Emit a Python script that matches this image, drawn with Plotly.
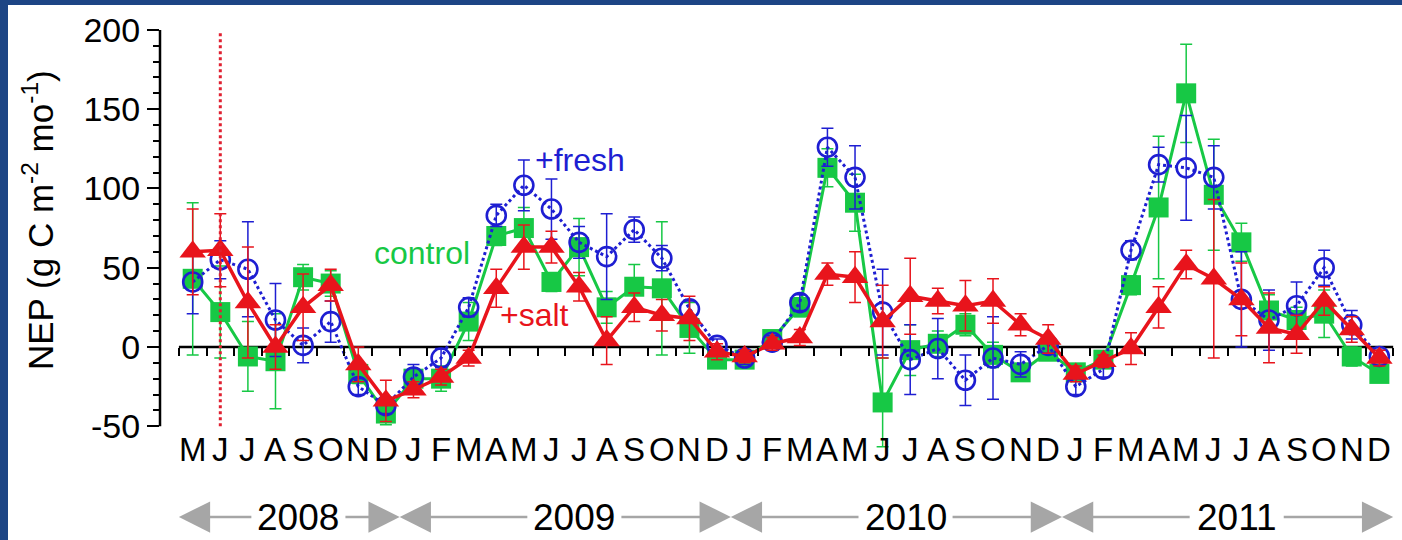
import plotly.graph_objects as go

# ---------------- data ----------------
months_per_year = [8, 12, 12, 12]
years = ["2008", "2009", "2010", "2011"]
month_letters = (["M", "J", "J", "A", "S", "O", "N", "D"]
                 + ["J", "F", "M", "A", "M", "J", "J", "A", "S", "O", "N", "D"] * 3)

control = [43, 22, -6, -9, 44, 40, -17, -42, -20, -20, 16, 70, 75, 41, 63, 25, 38, 37, 12, -8,
           -8, 5, 25, 113, 91, -35, -2, 2, 14, -5, -16, -3,
           -16, -8, 39, 88, 160, 96, 66, 23, 17, 21, -6, -17]
control_err = [48, 29, 22, 30, 8, 8, 6, 7, 5, 8, 12, 6, 13, 6, 18, 10, 14, 42, 16, 5,
               4, 4, 6, 12, 18, 28, 16, 8, 7, 8, 5, 5,
               4, 4, 6, 45, 31, 35, 12, 10, 8, 15, 6, 5]

salt = [60, 61, 28, 0, 25, 39, -11, -34, -27, -19, -7, 37, 63, 63, 38, 4, 25, 20, 18, -3,
        -6, 2, 6, 46, 44, 16, 32, 29, 26, 29, 14, 5,
        -17, -9, -1, 25, 52, 43, 30, 12, 8, 29, 11, -7]
salt_err = [27, 23, 35, 14, 21, 10, 11, 13, 5, 5, 5, 12, 14, 10, 9, 15, 9, 10, 14, 5,
            4, 4, 5, 7, 16, 23, 24, 8, 16, 14, 7, 9,
            5, 4, 10, 13, 9, 50, 23, 22, 12, 9, 8, 5]

fresh = [41, 55, 49, 17, 1, 16, -25, -37, -19, -7, 25, 83, 102, 87, 66, 57, 74, 56, 24, 1,
         -7, 3, 28, 126, 107, 22, -8, -1, -21, -7, -11, 1,
         -25, -14, 61, 115, 113, 107, 30, 17, 26, 50, 14, -6]
fresh_err = [20, 12, 30, 23, 11, 13, 5, 5, 8, 6, 6, 7, 16, 19, 10, 27, 8, 8, 5, 4,
             4, 4, 5, 12, 20, 27, 22, 19, 16, 26, 8, 5,
             5, 5, 6, 11, 33, 20, 30, 19, 15, 11, 9, 4]

y_major = [-50, 0, 50, 100, 150, 200]
y_minor = [v for v in range(-50, 201, 10) if v % 50 != 0]
treatment_month = 1  # June 2008

# ---------------- style ----------------
GREEN = "#17c845"
RED = "#e8141c"
BLUE = "#1e1ed2"
GRAY = "#a6a6a6"
FONT = "Liberation Sans, Arial, sans-serif"
BG_BLUE = "#1d4585"

x = list(range(len(control)))
n = len(x)

fig = go.Figure()

fig.add_trace(go.Scatter(
    x=x, y=control, mode="lines+markers",
    line=dict(color=GREEN, width=3),
    marker=dict(symbol="square", size=20, color=GREEN),
    error_y=dict(type="data", array=control_err, color=GREEN, thickness=1.5, width=6),
    cliponaxis=False, showlegend=False))

fig.add_trace(go.Scatter(
    x=x, y=fresh, mode="lines+markers",
    line=dict(color=BLUE, width=3, dash="dot"),
    marker=dict(symbol="circle-open", size=19, color=BLUE, line=dict(width=2.6, color=BLUE)),
    error_y=dict(type="data", array=fresh_err, color=BLUE, thickness=1.5, width=6),
    cliponaxis=False, showlegend=False))

fig.add_trace(go.Scatter(
    x=x, y=salt, mode="lines+markers",
    line=dict(color=RED, width=3.5),
    marker=dict(symbol="triangle-up", size=23, color=RED),
    error_y=dict(type="data", array=salt_err, color=RED, thickness=1.5, width=6),
    cliponaxis=False, showlegend=False))

# ---------------- layout geometry ----------------
W, H = 1402, 540
ML, MR, MT, MB = 160, 0, 22, 90
YR = [-65, 205]
XR = [-1.185, 43.82]
plot_h = H - MT - MB
plot_w = W - ML - MR

def px_to_paper_x(px):
    return (px - ML) / plot_w

def px_to_paper_y(py):
    return (H - MB - py) / plot_h

boundaries = [i - 0.5 for i in range(n + 1)]

shapes = []
# white slide area
shapes.append(dict(type="rect", xref="paper", yref="paper",
                   x0=px_to_paper_x(8), x1=px_to_paper_x(W + 5),
                   y0=px_to_paper_y(H + 5), y1=px_to_paper_y(5),
                   fillcolor="white", line=dict(width=0), layer="below"))
# zero line
shapes.append(dict(type="line", xref="x", yref="y", x0=boundaries[0], x1=boundaries[-1],
                   y0=0, y1=0, line=dict(color="black", width=2.5), layer="below"))
# y axis line
shapes.append(dict(type="line", xref="paper", yref="y", x0=0, x1=0,
                   y0=y_major[0], y1=y_major[-1], line=dict(color="black", width=2.5)))
# treatment start
shapes.append(dict(type="line", xref="x", yref="y", x0=treatment_month, x1=treatment_month,
                   y0=-50, y1=198, line=dict(color="#e02030", width=3, dash="dot"),
                   layer="above"))

annotations = []
# month letters
y_month = px_to_paper_y(449)
for i, m in enumerate(month_letters):
    annotations.append(dict(x=i, y=y_month, xref="x", yref="paper", text=m, showarrow=False,
                            font=dict(family=FONT, size=33, color="black"),
                            xanchor="center", yanchor="middle"))

# years with arrows
y_year = px_to_paper_y(517)
start = -0.5
for yr, cnt in zip(years, months_per_year):
    end = start + cnt
    cx = (start + end) / 2 + 0.33
    annotations.append(dict(x=cx, y=y_year, xref="x", yref="paper", text=yr, showarrow=False,
                            font=dict(family=FONT, size=37, color="black"),
                            xanchor="center", yanchor="middle"))
    for tip, tail in ((start, cx - 1.65), (end, cx + 1.65)):
        annotations.append(dict(x=tip, y=y_year, ax=tail, ay=0, xref="x", yref="paper",
                                axref="x", ayref="pixel", text="", showarrow=True,
                                arrowhead=2, arrowsize=2.5, arrowwidth=2.5,
                                arrowcolor=GRAY, standoff=0, startstandoff=0))
    start = end

# series labels
annotations.append(dict(x=14.03, y=118, xref="x", yref="y", text="+fresh", showarrow=False,
                        font=dict(family=FONT, size=32, color=BLUE)))
annotations.append(dict(x=8.31, y=59.3, xref="x", yref="y", text="control", showarrow=False,
                        font=dict(family=FONT, size=32, color=GREEN)))
annotations.append(dict(x=12.37, y=20.2, xref="x", yref="y", text="+salt", showarrow=False,
                        font=dict(family=FONT, size=32, color=RED)))

# y axis title
annotations.append(dict(x=px_to_paper_x(38), y=px_to_paper_y(220), xref="paper", yref="paper",
                        text="NEP (g C m<sup>-2</sup> mo<sup>-1</sup>)", textangle=-90,
                        showarrow=False, font=dict(family=FONT, size=35, color="black"),
                        xanchor="center", yanchor="middle"))

fig.update_layout(
    width=W, height=H,
    margin=dict(l=ML, r=MR, t=MT, b=MB, pad=0),
    paper_bgcolor=BG_BLUE, plot_bgcolor="white",
    shapes=shapes, annotations=annotations,
    xaxis=dict(range=XR, anchor="free", position=(0 - YR[0]) / (YR[1] - YR[0]),
               tickmode="array", tickvals=boundaries, ticks="outside", ticklen=8,
               tickwidth=2, tickcolor="black", showticklabels=False,
               showgrid=False, zeroline=False, showline=False),
    yaxis=dict(range=YR, tickmode="array", tickvals=y_major,
               ticktext=[str(v) for v in y_major], ticks="outside", ticklen=12,
               tickwidth=2, tickcolor="black", showgrid=False, zeroline=False,
               showline=False,
               tickfont=dict(family=FONT, size=34, color="black"),
               minor=dict(tickmode="array", tickvals=y_minor, ticks="outside", ticklen=6,
                          tickwidth=1.5, tickcolor="black", showgrid=False)),
    showlegend=False,
)

fig.write_html("out.html")
